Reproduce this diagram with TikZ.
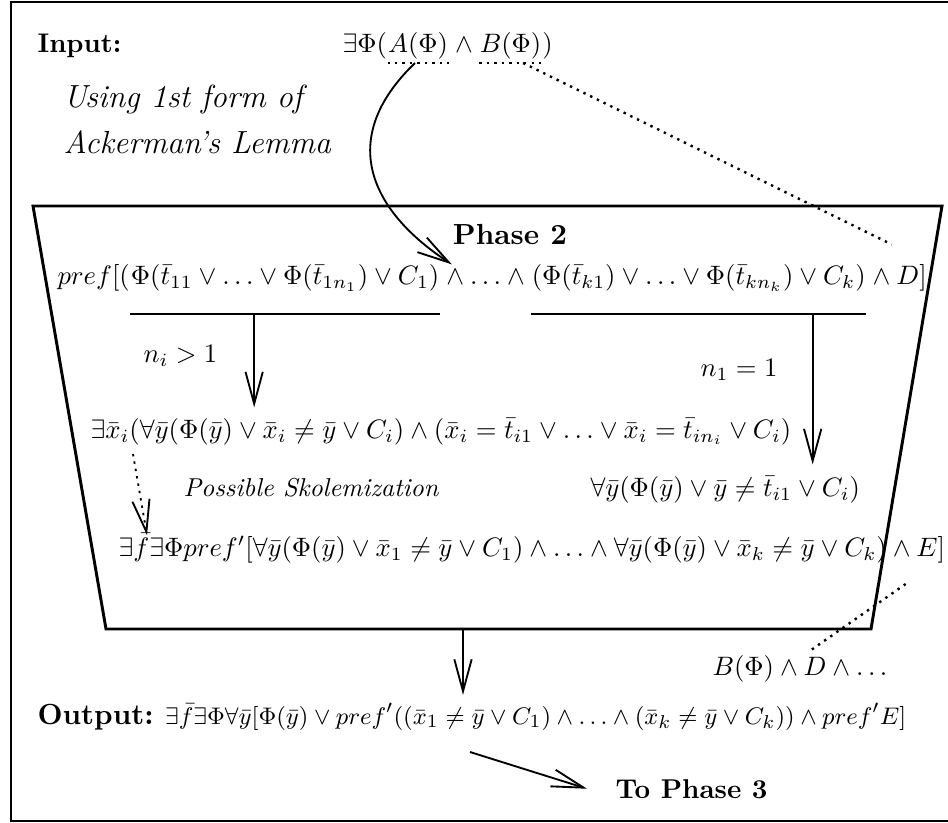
\documentclass[tikz,border=0pt]{standalone}
\usepackage{amsmath,amssymb}
\usepackage{tikz}
\usetikzlibrary{arrows.meta,calc}

\tikzset{
  part/.style={anchor=base west, inner sep=0pt},
  bigl/.style={font=\fontsize{10.9}{13}\selectfont\bfseries},
  arr/.style={-{Straight Barb[length=12pt,width=6.5pt]}, line width=0.7pt},
  dots/.style={line width=0.9pt, dash pattern=on 0.9pt off 1.9pt},
  uline/.style={line width=0.9pt}
}

\begin{document}
\begin{tikzpicture}[x=0.375pt, y=-0.375pt, font=\fontsize{9.7}{12}\selectfont]
\useasboundingbox (0,0) rectangle (948,823);
% outer frame and the Phase 2 box
\draw[line width=0.8pt] (950,2) -- (11,2) -- (11,821) -- (950,821);
\draw[line width=1.1pt] (33,206) -- (942,206) -- (871,629) -- (106,629) -- cycle;
\coordinate (boxbot) at (463,629);

% input
\node[part, font=\fontsize{10.1}{12}\selectfont\bfseries] (inlbl) at (37,53) {Input:};
\node[part] (in0) at (342,53) {$\exists\Phi($};
\node[part] (inA) at (in0.base east) {$A(\Phi)$};
\node[part] (inW) at (inA.base east) {${}\wedge{}$};
\node[part] (inB) at (inW.base east) {$B(\Phi)$};
\node[part] (in1) at (inB.base east) {$)$};
\coordinate (uA1) at ($(inA.base west)+(0,10)$);
\coordinate (uA2) at ($(inA.base east)+(0,10)$);
\coordinate (uB1) at ($(inB.base west)+(0,10)$);
\coordinate (uB2) at ($(inB.base east)+(0,10)$);
\draw[dots] (uA1) -- (uA2);
\draw[dots] (uB1) -- (uB2);

\node[part, font=\fontsize{12}{14}\selectfont\itshape] (use1) at (63,108) {Using 1st form of};
\node[part, font=\fontsize{12}{14}\selectfont\itshape] (use2) at (63,154) {Ackerman's Lemma};

% Phase 2
\node[part, bigl, anchor=base] (ph2) at (510,245) {Phase 2};
\node[part] (p0) at (57,285) {$pref[($};
\node[part] (p1) at (p0.base east) {$\Phi(\bar t_{11}\vee\ldots\vee\Phi(\bar t_{1n_1})\vee C_1)$};
\node[part] (p2) at (p1.base east) {${}\wedge\ldots\wedge{}$};
\node[part] (p3) at (p2.base east) {$(\Phi(\bar t_{k1})\vee\ldots\vee\Phi(\bar t_{kn_k})\vee C_k)$};
\node[part] (p4) at (p3.base east) {${}\wedge D]$};
\coordinate (u1a) at ($(p1.base west)+(0,29)$);
\coordinate (u1b) at ($(p1.base east)+(0,29)$);
\coordinate (u2a) at ($(p3.base west)+(0,29)$);
\coordinate (u2b) at ($(p3.base east)+(0,29)$);
\draw[uline] (u1a) -- (u1b);
\draw[uline] (u2a) -- (u2b);

\node[part] (ngt) at (143,362) {$n_i>1$};
\node[part] (neq) at (700,376) {$n_1=1$};

\node[part] (ex) at (90,438) {$\exists\bar x_i(\forall\bar y(\Phi(\bar y)\vee\bar x_i\neq\bar y\vee C_i)\wedge(\bar x_i=\bar t_{i1}\vee\ldots\vee\bar x_i=\bar t_{in_i}\vee C_i)$};
\node[part] (sk) at (183,496) {\itshape Possible Skolemization};
\node[part] (fa) at (590,496) {$\forall\bar y(\Phi(\bar y)\vee\bar y\neq\bar t_{i1}\vee C_i)$};
\node[part] (ef) at (118,556) {$\exists\bar f\exists\Phi pref'[\forall\bar y(\Phi(\bar y)\vee\bar x_1\neq\bar y\vee C_1)\wedge\ldots\wedge\forall\bar y(\Phi(\bar y)\vee\bar x_k\neq\bar y\vee C_k)\wedge E]$};

% output
\node[part] (bl) at (712,675) {$B(\Phi)\wedge D\wedge\ldots$};
\node[part, font=\fontsize{9.45}{12}\selectfont] (out) at (37,724) {{\fontsize{10.9}{13}\selectfont\bfseries Output:} $\exists\bar f\exists\Phi\forall\bar y[\Phi(\bar y)\vee pref'((\bar x_1\neq\bar y\vee C_1)\wedge\ldots\wedge(\bar x_k\neq\bar y\vee C_k))\wedge pref'E]$};
\node[part, font=\fontsize{10.2}{12}\selectfont\bfseries] (tp) at (615,798) {To Phase 3};

% connectors
\coordinate (s1) at ($(u1a)!0.4!(u1b)$);
\coordinate (s2) at ($(u2a)!0.84!(u2b)$);
\draw[line width=0.7pt, arr] ($(uA1)!0.45!(uA2)$) .. controls (335,140) and (372,212) .. ($(p1.north east)+(12,0)$);
\draw[dots] ($(uB1)!0.7!(uB2)$) -- ($(p4.north)+(-5,-20)$);
\draw[arr] (s1) -- ($(s1 |- ex.north)+(0,-10)$);
\draw[arr] (s2) -- ($(s2 |- fa.north)+(0,-11)$);
\draw[dots, arr] ($(ex.base west)+(43,16)$) -- ($(ef.north west)+(29,2)$);
\draw[dots] ($(bl.north)+(12,-5)$) -- ($(ef.base east)+(-40,28)$);
\draw[arr] (boxbot) -- ($(boxbot |- out.north)+(0,-8)$);
\draw[arr] ($(out.base west)+(433,28)$) -- ($(tp.west)+(-28,0)$);
\end{tikzpicture}
\end{document}
